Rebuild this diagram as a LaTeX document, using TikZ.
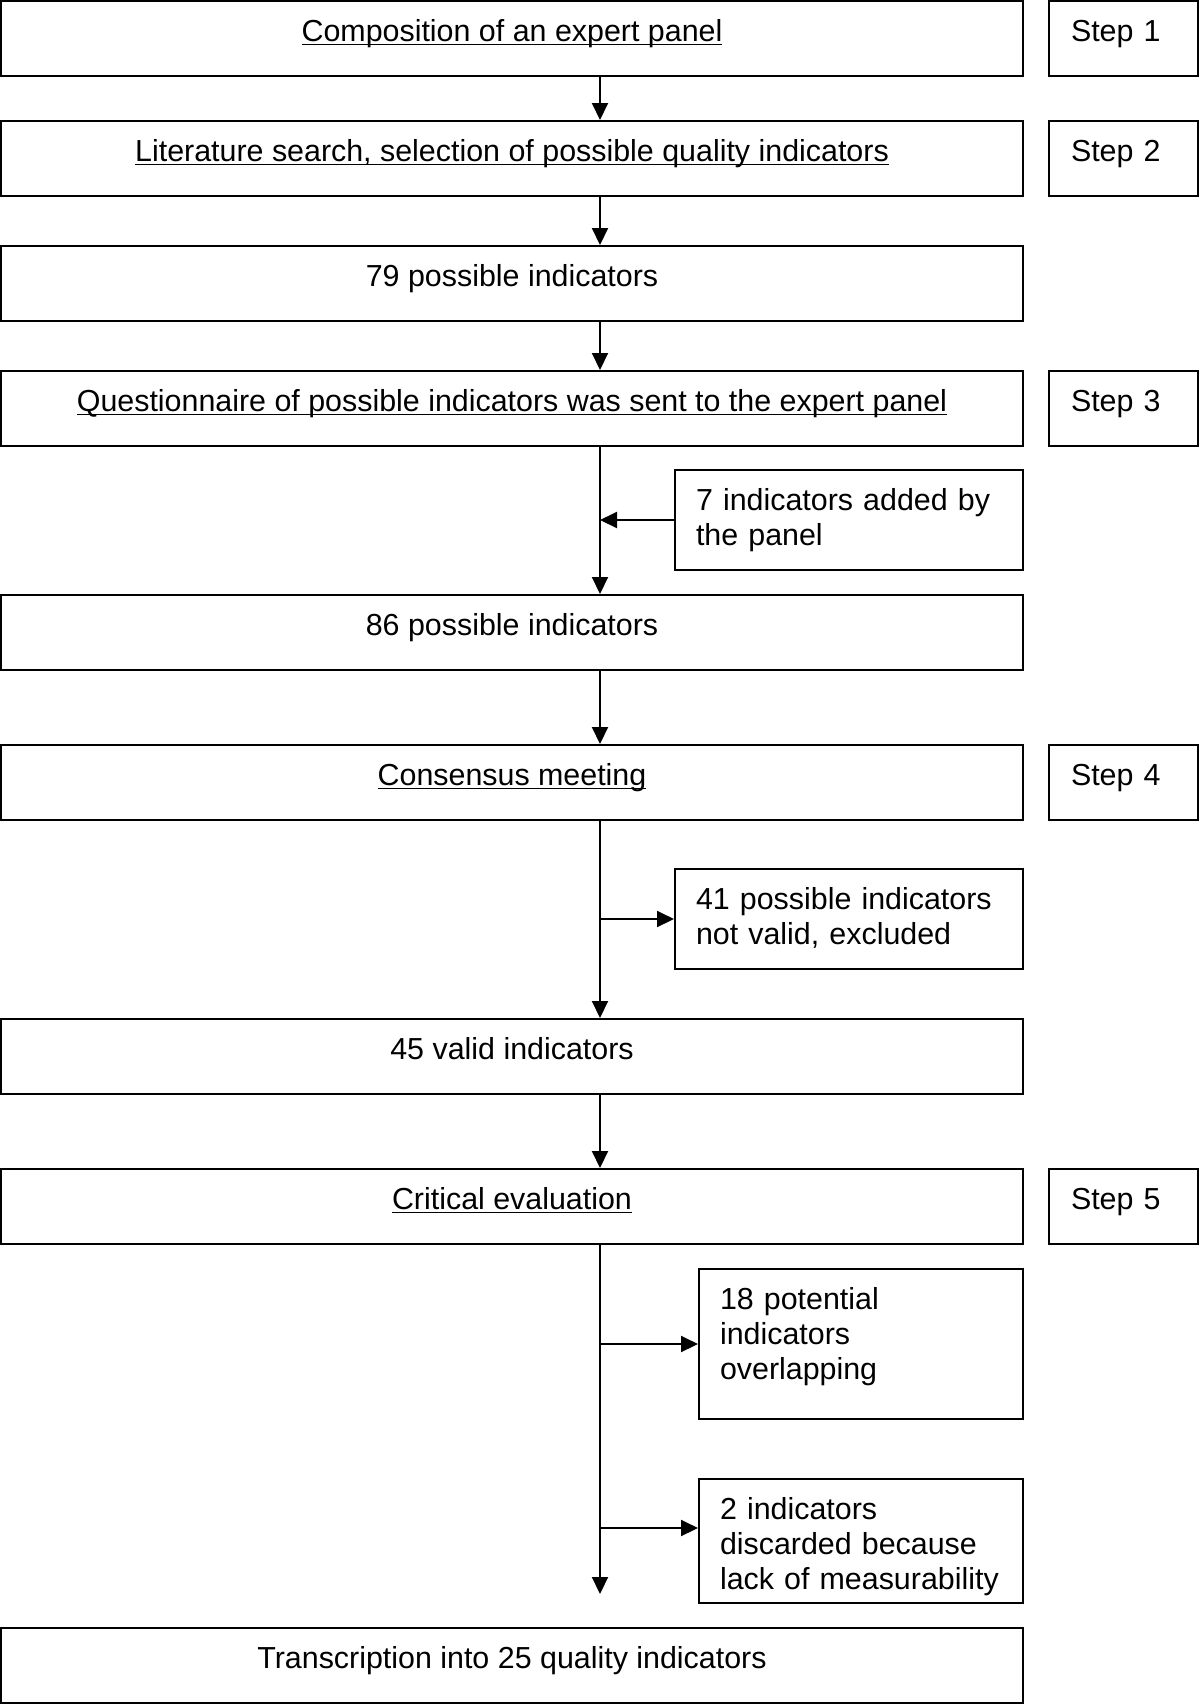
\documentclass[tikz,border=0pt]{standalone}
\usepackage{fontspec}
\setmainfont{Liberation Sans}
\usetikzlibrary{arrows.meta}
\newcommand{\stepul}[1]{\setbox0\hbox{#1}\rlap{\rule[-2.2pt]{\wd0}{0.7pt}}\box0}

\begin{document}
\begin{tikzpicture}[x=0.5pt,y=-0.5pt,>={Triangle[length=8.5pt,width=8pt]},line width=1pt,
    every node/.style={font=\fontsize{15.2}{17.6}\selectfont},
    mainbox/.style={shape=rectangle,draw=black,minimum width=511pt,minimum height=37.5pt,inner ysep=0pt,text height=20pt,text depth=17.5pt},
    stepbox/.style={shape=rectangle,draw=black,minimum width=74.5pt,minimum height=37.5pt,inner ysep=0pt,inner xsep=11pt,text width=52.5pt,align=left,text height=20pt,text depth=17.5pt},
    sidebox/.style={shape=rectangle,draw=black,inner ysep=0pt,inner xsep=10.5pt,align=left,text height=20pt}]
    \useasboundingbox (0,0) rectangle (1200,1704);
    \node[mainbox] (panel) at (512,38.5) {\stepul{Composition of an expert panel}};
    \node[mainbox] (lit) at (512,158.5) {\stepul{Literature search, selection of possible quality indicators}};
    \node[mainbox] (n79) at (512,283.5) {79 possible indicators};
    \node[mainbox] (quest) at (512,408.5) {\stepul{Questionnaire of possible indicators was sent to the expert panel}};
    \node[mainbox] (n86) at (512,632.5) {86 possible indicators};
    \node[mainbox] (meet) at (512,782.5) {\stepul{Consensus meeting}};
    \node[mainbox] (n45) at (512,1056.5) {45 valid indicators};
    \node[mainbox] (crit) at (512,1206.5) {\stepul{Critical evaluation}};
    \node[mainbox] (final) at (512,1665.5) {Transcription into 25 quality indicators};
    \node[stepbox] (step1) at (1123.5,38.5) {Step 1};
    \node[stepbox] (step2) at (1123.5,158.5) {Step 2};
    \node[stepbox] (step3) at (1123.5,408.5) {Step 3};
    \node[stepbox] (step4) at (1123.5,782.5) {Step 4};
    \node[stepbox] (step5) at (1123.5,1206.5) {Step 5};
    \node[sidebox,minimum width=174pt,minimum height=50pt,text width=153pt,text depth=30pt] (added) at (849,520) {7 indicators added by\\the panel};
    \node[sidebox,minimum width=174pt,minimum height=50pt,text width=153pt,text depth=30pt] (excl) at (849,919) {41 possible indicators\\not valid, excluded};
    \node[sidebox,minimum width=162pt,minimum height=75pt,text width=141pt,text depth=55pt] (overlap) at (861,1344) {18 potential\\indicators\\overlapping};
    \node[sidebox,minimum width=162pt,minimum height=62pt,text width=141pt,text depth=42pt] (discard) at (861,1541) {2 indicators\\discarded because\\lack of measurability};
    \coordinate (trunk) at (600,0);
    \coordinate (tap) at (600,1528);
    \coordinate (stop) at (600,1594);
    \path[->] (panel.south -| trunk) edge (lit.north -| trunk);
    \path[->] (lit.south -| trunk) edge (n79.north -| trunk);
    \path[->] (n79.south -| trunk) edge (quest.north -| trunk);
    \path[->] (quest.south -| trunk) edge (n86.north -| trunk);
    \path[->] (added.west) edge (added.west -| trunk);
    \path[->] (n86.south -| trunk) edge (meet.north -| trunk);
    \path[->] (meet.south -| trunk) edge (n45.north -| trunk);
    \path[->] (excl.west -| trunk) edge (excl.west);
    \path[->] (n45.south -| trunk) edge (crit.north -| trunk);
    \path[->] (crit.south -| trunk) edge (stop);
    \path[->] (overlap.west -| trunk) edge (overlap.west);
    \path[->] (tap) edge (tap -| discard.west);
\end{tikzpicture}
\end{document}
